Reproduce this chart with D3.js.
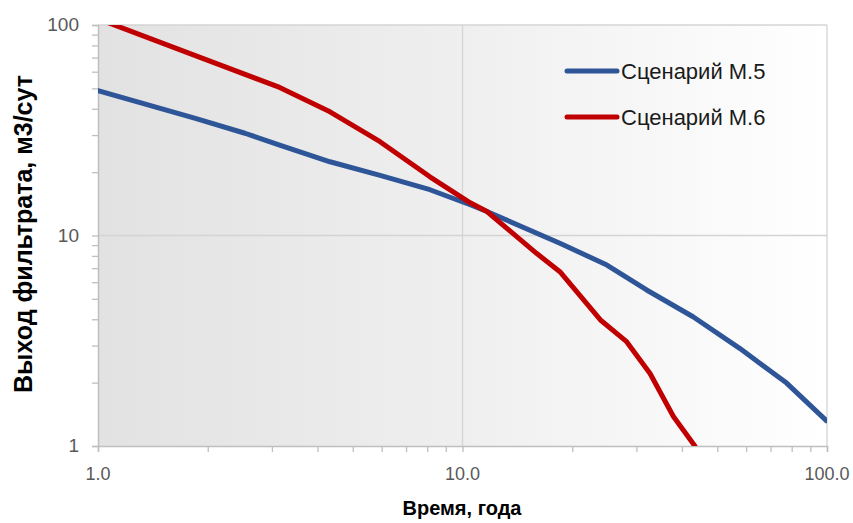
<!DOCTYPE html>
<html><head><meta charset="utf-8">
<script src="https://cdn.jsdelivr.net/npm/d3@7"></script>
<style>body{margin:0;background:#fff}svg{display:block}</style>
</head><body>
<svg id="c" width="853" height="523"></svg>
<script>
const seriesNames = ["Сценарий М.5", "Сценарий М.6"];
const timeM5 = [1.0, 1.85, 2.53, 3.15, 4.33, 5.94, 8.14, 10.5, 11.67, 18.5, 24.9, 32.0, 42.9, 57.6, 77.5, 99.6];
const valueM5 = [48.7, 36.0, 30.6, 26.9, 22.4, 19.3, 16.5, 14.0, 13.0, 9.19, 7.24, 5.51, 4.11, 2.91, 1.99, 1.32];
const timeM6 = [1.0, 1.85, 3.15, 4.33, 5.94, 8.14, 10.5, 11.67, 15.96, 18.5, 23.9, 28.2, 32.7, 37.9, 43.4];
const valueM6 = [107, 71.5, 50.5, 38.7, 27.9, 19.0, 14.3, 13.0, 8.23, 6.73, 3.97, 3.13, 2.21, 1.38, 1.0];
const xTicks = [1, 10, 100];
const xTickLabels = ["1.0", "10.0", "100.0"];
const yTicks = [1, 10, 100];
const yTickLabels = ["1", "10", "100"];
const xTitle = "Время, года";
const yTitle = "Выход фильтрата, м3/сут";
const colors = ["#2e5597", "#c00000"];

const svg = d3.select("#c");
const L = 98, R = 827, T = 25, B = 446;
const x = d3.scaleLog().domain([1, 100]).range([L, R]);
const y = d3.scaleLog().domain([1, 100]).range([B, T]);

const defs = svg.append("defs");
const grad = defs.append("linearGradient").attr("id", "bg").attr("x1", "0").attr("x2", "1").attr("y1", "0").attr("y2", "0");
grad.append("stop").attr("offset", "0").attr("stop-color", "#e2e2e2");
grad.append("stop").attr("offset", "0.5").attr("stop-color", "#efefef");
grad.append("stop").attr("offset", "1").attr("stop-color", "#ffffff");
defs.append("clipPath").attr("id", "clip").append("rect").attr("x", L).attr("y", T).attr("width", R - L).attr("height", B - T);

svg.append("rect").attr("x", L).attr("y", T).attr("width", R - L).attr("height", B - T).attr("fill", "url(#bg)");

// gridlines
const grid = svg.append("g").attr("stroke", "#d4d4d4").attr("stroke-width", 1.3);
[10, 100].forEach(v => grid.append("line").attr("x1", x(v)).attr("x2", x(v)).attr("y1", T).attr("y2", B));
[10, 100].forEach(v => grid.append("line").attr("x1", L).attr("x2", R).attr("y1", y(v)).attr("y2", y(v)));

// ticks (major + minor)
const minor = [];
[1, 10].forEach(d => { for (let k = 1; k <= 10; k++) minor.push(d * k); });
const minorU = Array.from(new Set(minor));

const xAxis = d3.axisBottom(x).tickValues(minorU).tickSize(6).tickFormat("");
const gx = svg.append("g").attr("transform", `translate(0,${B})`).call(xAxis);
gx.selectAll("line").attr("stroke", "#bfbfbf").attr("stroke-width", 1.3);
gx.select(".domain").attr("stroke", "#bfbfbf").attr("stroke-width", 1.5);

const yAxis = d3.axisLeft(y).tickValues(minorU).tickSize(6).tickFormat("");
const gy = svg.append("g").attr("transform", `translate(${L},0)`).call(yAxis);
gy.selectAll("line").attr("stroke", "#bfbfbf").attr("stroke-width", 1.3);
gy.select(".domain").attr("stroke", "#bfbfbf").attr("stroke-width", 1.5);

// tick labels
svg.append("g").selectAll("text").data(xTicks).join("text")
  .attr("x", d => x(d)).attr("y", 480).attr("text-anchor", "middle")
  .attr("font-family", "Liberation Sans Narrow, Liberation Sans, Arial, sans-serif")
  .attr("font-size", 18).attr("fill", "#595959")
  .text((d, i) => xTickLabels[i]);
svg.append("g").selectAll("text").data(yTicks).join("text")
  .attr("x", 79).attr("y", d => y(d) + 6).attr("text-anchor", "end")
  .attr("font-family", "Liberation Sans, Arial, sans-serif")
  .attr("font-size", 19).attr("fill", "#595959")
  .text((d, i) => yTickLabels[i]);

// lines
const line = d3.line().x(d => x(d[0])).y(d => y(d[1]));
const plot = svg.append("g").attr("clip-path", "url(#clip)");
[[timeM5, valueM5], [timeM6, valueM6]].forEach((s, i) => {
  plot.append("path").datum(s[0].map((t, j) => [t, s[1][j]]))
    .attr("d", line).attr("fill", "none").attr("stroke", colors[i])
    .attr("stroke-width", 5).attr("stroke-linejoin", "round").attr("stroke-linecap", "round");
});

// legend
seriesNames.forEach((n, i) => {
  const ly = 71 + i * 46;
  svg.append("line").attr("x1", 567).attr("x2", 617).attr("y1", ly).attr("y2", ly)
    .attr("stroke", colors[i]).attr("stroke-width", 5).attr("stroke-linecap", "round");
  svg.append("text").attr("x", 621).attr("y", ly + 8)
    .attr("font-family", "Liberation Sans, Arial, sans-serif").attr("font-size", 22).attr("fill", "#1a1a1a")
    .text(n);
});

// titles
svg.append("text").attr("x", 462).attr("y", 515).attr("text-anchor", "middle")
  .attr("font-family", "Liberation Sans Narrow, Liberation Sans, Arial, sans-serif").attr("font-weight", "bold")
  .attr("font-size", 20).attr("fill", "#000").text(xTitle);
svg.append("text").attr("transform", `translate(32,234) rotate(-90)`).attr("text-anchor", "middle")
  .attr("font-family", "Liberation Sans, Arial, sans-serif").attr("font-weight", "bold")
  .attr("font-size", 25).attr("fill", "#000").text(yTitle);
</script>
</body></html>
